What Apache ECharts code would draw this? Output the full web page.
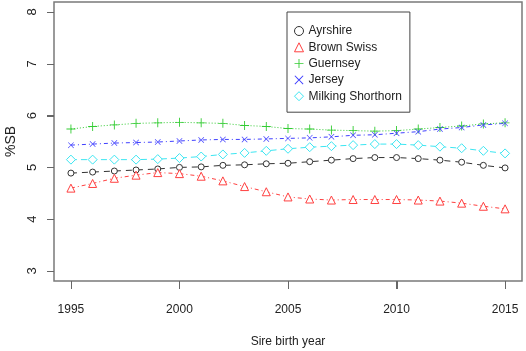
<!DOCTYPE html>
<html>
<head>
<meta charset="utf-8">
<script src="https://cdn.jsdelivr.net/npm/echarts@6/dist/echarts.min.js"></script>
<style>
  html, body { margin: 0; padding: 0; background: #fff; }
  #chart { width: 526px; height: 351px; }
</style>
</head>
<body>
<div id="chart"></div>
<script>
// sire birth years
const years = [1995, 1996, 1997, 1998, 1999, 2000, 2001, 2002, 2003, 2004, 2005,
  2006, 2007, 2008, 2009, 2010, 2011, 2012, 2013, 2014, 2015];

// %SB per breed
const ayrshire = [4.89, 4.91, 4.93, 4.95, 4.97, 5.00, 5.01, 5.04, 5.05, 5.07, 5.08,
  5.11, 5.14, 5.17, 5.19, 5.19, 5.17, 5.14, 5.10, 5.04, 4.99];
const brownSwiss = [4.60, 4.69, 4.79, 4.85, 4.90, 4.88, 4.83, 4.74, 4.63, 4.53, 4.43,
  4.39, 4.37, 4.38, 4.38, 4.38, 4.37, 4.35, 4.31, 4.25, 4.20];
const guernsey = [5.74, 5.79, 5.82, 5.85, 5.86, 5.87, 5.86, 5.85, 5.81, 5.79, 5.75,
  5.74, 5.72, 5.71, 5.70, 5.71, 5.74, 5.77, 5.80, 5.84, 5.86];
const jersey = [5.43, 5.45, 5.47, 5.48, 5.49, 5.51, 5.53, 5.54, 5.54, 5.55, 5.56,
  5.57, 5.59, 5.62, 5.63, 5.66, 5.69, 5.74, 5.77, 5.82, 5.85];
const milkingShorthorn = [5.15, 5.15, 5.15, 5.15, 5.16, 5.18, 5.21, 5.25, 5.28, 5.32, 5.36,
  5.39, 5.41, 5.43, 5.45, 5.45, 5.43, 5.40, 5.37, 5.32, 5.27];

// axis ticks
const xTicks = [1995, 2000, 2005, 2010, 2015];
const yTicks = [3, 4, 5, 6, 7, 8];

const font = "'Liberation Sans', Arial, sans-serif";

// R-style padding between the frame and the outer ticks
const xPad = 0.78;
const yPad = 0.193;

// plus / cross shapes (filled outlines)
const plusPath = "path://M4.5,0H5.5V4.5H10V5.5H5.5V10H4.5V5.5H0V4.5H4.5Z";
const crossPath = "path://M0,0.8L0.8,0L5,4.2L9.2,0L10,0.8L5.8,5L10,9.2L9.2,10L5,5.8L0.8,10L0,9.2L4.2,5Z";

// hollow: white fill with coloured outline
const breeds = [
  { name: "Ayrshire", data: ayrshire, color: "#333333", symbol: "circle", size: 6, dash: [6, 5], hollow: true },
  { name: "Brown Swiss", data: brownSwiss, color: "#ff4040", symbol: "triangle", size: 8, dash: [4, 3, 1, 3], hollow: true },
  { name: "Guernsey", data: guernsey, color: "#33cc33", symbol: plusPath, size: 9, dash: [1, 2], hollow: false },
  { name: "Jersey", data: jersey, color: "#4040ff", symbol: crossPath, size: 6, dash: [4, 3, 1, 3], hollow: false },
  { name: "Milking Shorthorn", data: milkingShorthorn, color: "#3ce6f2", symbol: "diamond", size: 9, dash: [6, 4], hollow: true }
];

function markStyle(b) {
  return b.hollow
    ? { color: "#fff", borderColor: b.color, borderWidth: 1 }
    : { color: b.color, borderWidth: 0 };
}

const axisGray = "#666";
const xTickLen = 8;
const yTickLen = 7;

const chart = echarts.init(document.getElementById("chart"));

const option = {
  animation: false,
  backgroundColor: "#ffffff",
  grid: {
    left: 54, right: 4, top: 2, bottom: 70,
    // wide outer bounds so labels never squeeze the plot area
    outerBounds: { left: -80, top: -80, right: -80, bottom: -80 },
    show: true,
    borderColor: "#7a7a7a",
    borderWidth: 1.5,
    backgroundColor: "transparent"
  },
  xAxis: {
    type: "value",
    min: xTicks[0] - xPad,
    max: xTicks[xTicks.length - 1] + xPad,
    name: "Sire birth year",
    nameLocation: "middle",
    nameGap: 55,
    nameTextStyle: { fontFamily: font, fontSize: 12, color: "#222" },
    axisLine: { show: false },
    axisTick: { show: true, customValues: xTicks, length: xTickLen, lineStyle: { color: axisGray, width: 1 } },
    axisLabel: {
      customValues: xTicks,
      margin: 23,
      fontFamily: font,
      fontSize: 12,
      color: "#222",
      formatter: (v) => String(v)
    },
    splitLine: { show: false }
  },
  yAxis: {
    type: "value",
    min: yTicks[0] - yPad,
    max: yTicks[yTicks.length - 1] + yPad,
    name: "%SB",
    nameLocation: "middle",
    nameGap: 29,
    nameTextStyle: { fontFamily: font, fontSize: 14, color: "#222" },
    axisLine: { show: false },
    axisTick: { show: true, customValues: yTicks, length: yTickLen, lineStyle: { color: axisGray, width: 1 } },
    axisLabel: { customValues: yTicks, rotate: 90, margin: 15, fontFamily: font, fontSize: 13, color: "#222" },
    splitLine: { show: false }
  },
  legend: {
    orient: "vertical",
    left: 287,
    top: 12,
    padding: [13, 8, 10, 7],
    itemWidth: 9,
    itemHeight: 9,
    itemGap: 4.3,
    backgroundColor: "#fff",
    borderColor: "#444",
    borderWidth: 1,
    borderRadius: 0,
    textStyle: { fontFamily: font, fontSize: 12, lineHeight: 12, color: "#222" },
    data: breeds.map((b) => ({
      name: b.name,
      icon: b.symbol,
      itemStyle: markStyle(b)
    }))
  },
  series: breeds.map((b) => ({
    name: b.name,
    type: "line",
    data: years.map((y, i) => [y, b.data[i]]),
    symbol: b.symbol,
    symbolSize: b.size,
    showSymbol: true,
    lineStyle: { color: b.color, width: 1, type: b.dash },
    itemStyle: markStyle(b)
  }))
};

chart.setOption(option);

// outer tick marks, placed through the chart's own axis scales
const frameBottom = chart.convertToPixel({ yAxisIndex: 0 }, yTicks[0] - yPad);
const frameLeft = chart.convertToPixel({ xAxisIndex: 0 }, xTicks[0] - xPad);
const tickMarks = [];
xTicks.forEach((v) => {
  const x = Math.round(chart.convertToPixel({ xAxisIndex: 0 }, v)) + 0.5;
  tickMarks.push({
    type: "line",
    silent: true,
    shape: { x1: x, y1: frameBottom, x2: x, y2: frameBottom + xTickLen },
    style: { stroke: axisGray, lineWidth: 1 }
  });
});
yTicks.forEach((v) => {
  const y = Math.round(chart.convertToPixel({ yAxisIndex: 0 }, v)) + 0.5;
  tickMarks.push({
    type: "line",
    silent: true,
    shape: { x1: frameLeft - yTickLen, y1: y, x2: frameLeft, y2: y },
    style: { stroke: axisGray, lineWidth: 1 }
  });
});
chart.setOption({ graphic: tickMarks });
</script>
</body>
</html>
